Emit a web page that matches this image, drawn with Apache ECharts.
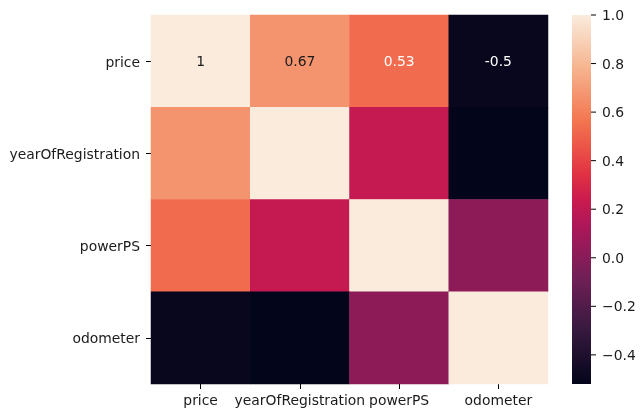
<!DOCTYPE html>
<html>
<head>
<meta charset="utf-8">
<style>html,body{margin:0;padding:0;background:#fff}#c{width:644px;height:418px}</style>
<script src="https://cdn.jsdelivr.net/npm/echarts@6/dist/echarts.min.js"></script>
</head>
<body>
<div id="c"></div>
<script>
const categories = ['price', 'yearOfRegistration', 'powerPS', 'odometer'];
const rowPrice = [1, 0.67, 0.53, -0.5];
const rowYear = [0.67, 1, 0.22, -0.52];
const rowPower = [0.53, 0.22, 1, 0.02];
const rowOdometer = [-0.5, -0.52, 0.02, 1];
const rows = [rowPrice, rowYear, rowPower, rowOdometer];
const annotatedRows = [0];
const colorTicks = [-0.4, -0.2, 0, 0.2, 0.4, 0.6, 0.8, 1];
const scaleMin = -0.52, scaleMax = 1;
const rocket = ['#03051a','#1c0f2c','#35193e','#521c4a','#701f57','#8e1b58','#ad1759','#cb1b4f','#e13342','#ec5548','#f37651','#f49570','#f6b48f','#f8d0b6','#faebdd'];

const FONT = '"DejaVu Sans"';
const SIZE = 13.9;
const TEXT = '#1a1a1a';
const data = [];
rows.forEach((row, r) => row.forEach((v, c) => {
  const show = annotatedRows.includes(r);
  data.push({
    value: [c, r, v],
    label: { show, color: v > 0.6 ? TEXT : '#ffffff' }
  });
}));

const chart = echarts.init(document.getElementById('c'), null, { renderer: 'canvas' });
chart.setOption({
  animation: false,
  backgroundColor: '#fff',
  textStyle: { fontFamily: FONT },
  grid: [
    { left: 151, top: 15, width: 397, height: 369 },
    { left: 572, top: 15, width: 19, height: 369 }
  ],
  xAxis: [
    { type: 'category', data: categories, gridIndex: 0, position: 'bottom',
      axisLine: { show: false }, splitLine: { show: false }, splitArea: { show: false },
      axisTick: { show: true, alignWithLabel: true, length: 5, lineStyle: { color: '#000', width: 1 } },
      axisLabel: { interval: 0, hideOverlap: false, margin: 10, color: TEXT, fontFamily: FONT, fontSize: SIZE } },
    { type: 'value', gridIndex: 1, min: 0, max: 1, position: 'bottom',
      axisLine: { show: false }, axisTick: { show: false }, axisLabel: { show: false }, splitLine: { show: false } }
  ],
  yAxis: [
    { type: 'category', data: categories, gridIndex: 0, inverse: true,
      axisLine: { show: false }, splitLine: { show: false }, splitArea: { show: false },
      axisTick: { show: true, alignWithLabel: true, length: 5, lineStyle: { color: '#000', width: 1 } },
      axisLabel: { interval: 0, margin: 11, color: TEXT, fontFamily: FONT, fontSize: SIZE,
        verticalAlign: 'top', lineHeight: 4 } },
    { type: 'value', gridIndex: 1, position: 'right', min: scaleMin, max: scaleMax,
      axisLine: { show: false, onZero: false }, splitLine: { show: false },
      axisTick: { show: false },
      axisLabel: { show: true, margin: 11, color: TEXT, fontFamily: FONT, fontSize: SIZE,
        customValues: colorTicks, verticalAlign: 'top', lineHeight: 3,
        formatter: v => v.toFixed(1).replace('-', '\u2212') } }
  ],
  visualMap: {
    type: 'continuous', show: false, min: scaleMin, max: scaleMax, seriesIndex: 0, dimension: 2,
    inRange: { color: rocket }
  },
  series: [
    { type: 'heatmap', xAxisIndex: 0, yAxisIndex: 0, data,
      label: { show: false, fontFamily: FONT, fontSize: SIZE, offset: [0, 1],
        formatter: p => String(p.value[2]) },
      itemStyle: { borderWidth: 0 }, emphasis: { disabled: true }, progressive: 0 },
    { type: 'custom', xAxisIndex: 1, yAxisIndex: 1, coordinateSystem: 'cartesian2d', silent: true, clip: false, z: 2,
      data: [[0, scaleMin, 1, scaleMax]],
      encode: { x: [0, 2], y: [1, 3] },
      renderItem: (params, api) => {
        const a = api.coord([api.value(0), api.value(3)]);
        const b = api.coord([api.value(2), api.value(1)]);
        const stops = rocket.map((color, i) => ({ offset: i / (rocket.length - 1), color }));
        return { type: 'rect',
          shape: { x: a[0], y: a[1], width: b[0] - a[0], height: b[1] - a[1] },
          style: { fill: new echarts.graphic.LinearGradient(0, 1, 0, 0, stops) } };
      } },
    { type: 'scatter', xAxisIndex: 1, yAxisIndex: 1, silent: true, clip: false, z: 30,
      data: colorTicks.map(t => [1, t]),
      symbol: 'rect', symbolSize: [5, 1], symbolOffset: [2.5, 0],
      itemStyle: { color: '#000', opacity: 1 } }
  ]
});
</script>
</body>
</html>
